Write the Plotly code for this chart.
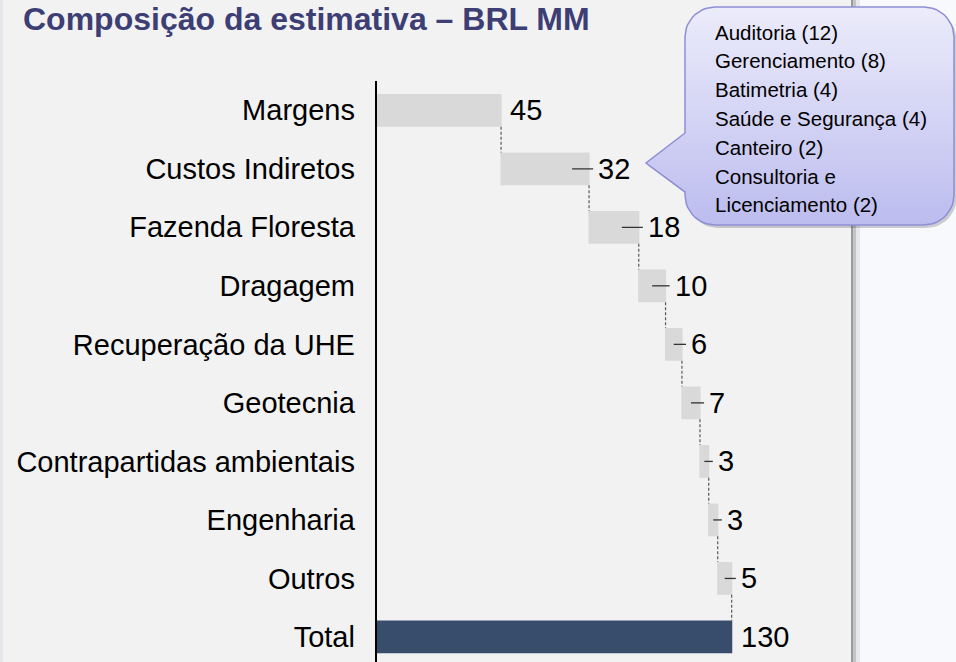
import numpy as np
import plotly.graph_objects as go

# ---------------- data ----------------
categories = ["Margens", "Custos Indiretos", "Fazenda Floresta", "Dragagem",
              "Recuperação da UHE", "Geotecnia", "Contrapartidas ambientais",
              "Engenharia", "Outros", "Total"]
values = [45.6, 32.2, 18.2, 9.8, 6.0, 6.6, 3.2, 3.3, 5.1, 130.0]
measures = ["relative"] * 9 + ["total"]
value_labels = ["45", "32", "18", "10", "6", "7", "3", "3", "5", "130"]
callout_lines = ["Auditoria (12)", "Gerenciamento (8)", "Batimetria (4)",
                 "Saúde e Segurança (4)", "Canteiro (2)", "Consultoria e",
                 "Licenciamento (2)"]
title_text = "Composição da estimativa – BRL MM"

# ---------------- geometry helpers ----------------
W, H = 956, 662
AX_X = 376.5          # pixel position of the value axis (x = 0)
PLOT_R = 851.0        # right edge of the plot area
PX_PER_UNIT = 2.732
PLOT_TOP = 81.0
FONT = "Liberation Sans"


def px(x):
    return x / W


def py(y):
    return 1 - y / H


ends = list(np.cumsum(values[:9])) + [sum(values[:9])]
starts = [0.0] + ends[:8] + [0.0]

fig = go.Figure()

fig.add_trace(go.Waterfall(
    orientation="h",
    y=categories,
    x=values,
    measure=measures,
    textinfo="none",
    increasing=dict(marker=dict(color="#d9d9d9", line=dict(width=0))),
    decreasing=dict(marker=dict(color="#d9d9d9", line=dict(width=0))),
    totals=dict(marker=dict(color="#384c6c", line=dict(width=0))),
    connector=dict(mode="between", line=dict(color="#595959", width=1.2, dash="3px,2px")),
    hoverinfo="skip",
    showlegend=False,
))

# leader dashes before the labels
dx, dy = [], []
for i in range(1, 9):
    s, e, v = starts[i], ends[i], values[i]
    x0 = max(s + v / 2, e - 6.2)
    x1 = e + 1.5
    dx += [x0, x1, None]
    dy += [categories[i], categories[i], None]
fig.add_trace(go.Scatter(x=dx, y=dy, mode="lines",
                         line=dict(color="#333333", width=1.3),
                         hoverinfo="skip", showlegend=False))

annotations = []
for i, cat in enumerate(categories):
    annotations.append(dict(
        x=ends[i], y=cat, xref="x", yref="y", text=value_labels[i],
        showarrow=False, xanchor="left", yanchor="middle", xshift=7,
        font=dict(family=FONT, size=29, color="#000000")))

# ---------------- callout (overlay axes in pixel units) ----------------
L, R, T, B, RAD = 685.0, 954.0, 7.0, 225.0, 30.0
tip = (646.0, 163.0)
p_up, p_lo = 133.0, 192.0


def arc(cx, cy, a0, a1, n=12):
    a = np.linspace(np.radians(a0), np.radians(a1), n)
    return list(cx + RAD * np.cos(a)), list(cy + RAD * np.sin(a))


xs, ys = [], []
for (cx, cy, a0, a1) in [(L + RAD, T + RAD, 180, 270), (R - RAD, T + RAD, 270, 360),
                         (R - RAD, B - RAD, 0, 90), (L + RAD, B - RAD, 90, 180)]:
    ax_, ay_ = arc(cx, cy, a0, a1)
    xs += ax_
    ys += ay_
xs += [L, L, tip[0], L, L]
ys += [B - RAD, p_lo, tip[1], p_up, T + RAD]

fig.add_trace(go.Scatter(x=[x + 2.5 for x in xs], y=[y + 3 for y in ys], xaxis="x2", yaxis="y2",
                         mode="lines", fill="toself", fillcolor="rgba(0,0,0,0.18)",
                         line=dict(width=0), hoverinfo="skip", showlegend=False))
fig.add_trace(go.Scatter(x=xs, y=ys, xaxis="x2", yaxis="y2", mode="lines", fill="toself",
                         fillgradient=dict(type="vertical", start=T, stop=B,
                                           colorscale=[[0, "#ececfb"], [1, "#bcbcef"]]),
                         line=dict(color="#8e8ed6", width=1.5),
                         hoverinfo="skip", showlegend=False))

for i, line in enumerate(callout_lines):
    annotations.append(dict(
        x=px(713), y=py(32 + i * 28.8), xref="paper", yref="paper", text=line,
        showarrow=False, xanchor="left", yanchor="middle",
        font=dict(family=FONT, size=20.5, color="#000000")))

annotations.append(dict(
    x=px(21), y=py(18.5), xref="paper", yref="paper", text="<b>" + title_text + "</b>",
    showarrow=False, xanchor="left", yanchor="middle",
    font=dict(family=FONT, size=32, color="#3c3e74")))

shapes = [
    dict(type="rect", xref="paper", yref="paper", x0=0, x1=px(851), y0=0, y1=1,
         fillcolor="#f2f2f2", line=dict(width=0), layer="below"),
    dict(type="rect", xref="paper", yref="paper", x0=0, x1=px(3), y0=0, y1=1,
         fillcolor="#e6e6ea", line=dict(width=0), layer="below"),
    dict(type="rect", xref="paper", yref="paper", x0=px(851), x1=px(853.5), y0=0, y1=1,
         fillcolor="#9a9a9a", line=dict(width=0), layer="below"),
    dict(type="rect", xref="paper", yref="paper", x0=px(853.5), x1=px(856), y0=0, y1=1,
         fillcolor="#c4c4c8", line=dict(width=0), layer="below"),
    dict(type="rect", xref="paper", yref="paper", x0=px(856), x1=px(860), y0=0, y1=1,
         fillcolor="#e6e7ec", line=dict(width=0), layer="below"),
]

fig.update_layout(
    width=W, height=H,
    margin=dict(l=0, r=0, t=0, b=0, pad=0),
    paper_bgcolor="#f8f9fd",
    plot_bgcolor="rgba(0,0,0,0)",
    waterfallgap=0.44,
    xaxis=dict(domain=[px(AX_X), px(PLOT_R)], range=[0, (PLOT_R - AX_X) / PX_PER_UNIT],
               visible=False, fixedrange=True),
    yaxis=dict(domain=[0, py(PLOT_TOP)], type="category", categoryorder="array",
               categoryarray=categories, range=[(H - 110.3) / 58.52, -0.5],
               showline=True, linecolor="#000000", linewidth=1.5, ticks="",
               showgrid=False, zeroline=False, ticklabelstandoff=14,
               tickfont=dict(family=FONT, size=29, color="#000000"), fixedrange=True),
    xaxis2=dict(domain=[0, 1], range=[0, W], visible=False, anchor="y2", fixedrange=True),
    yaxis2=dict(domain=[0, 1], range=[H, 0], visible=False, anchor="x2", fixedrange=True),
    annotations=annotations,
    shapes=shapes,
    showlegend=False,
)

fig.write_html(
    "out.html",
    config={"displayModeBar": False},
    post_script="document.body.style.margin='0';document.body.style.overflow='hidden';",
)
